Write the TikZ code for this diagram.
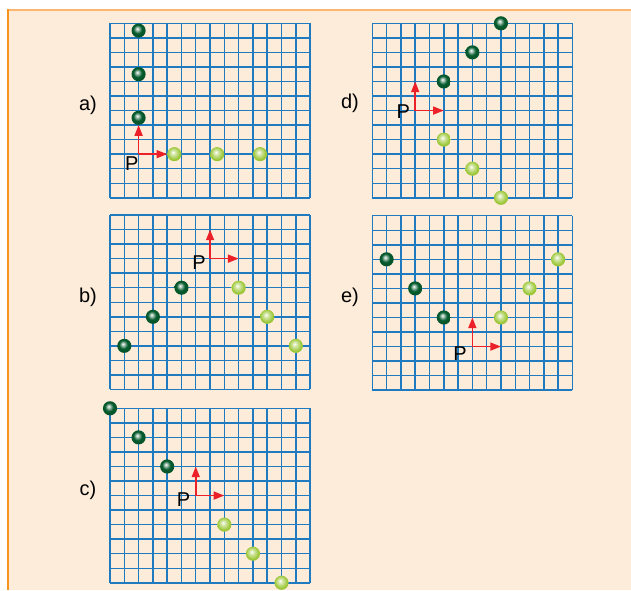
\documentclass[tikz,border=0pt]{standalone}
\usepackage{fontspec}
\setmainfont{Liberation Sans}
\usetikzlibrary{arrows.meta}

\definecolor{paper}{RGB}{253,236,218}
\definecolor{frameside}{RGB}{247,148,30}
\definecolor{frametop}{RGB}{251,182,112}
\definecolor{gridblue}{RGB}{32,122,192}
\definecolor{vecred}{RGB}{236,32,40}
\definecolor{dkgreen}{RGB}{6,92,46}
\definecolor{ltgreen}{RGB}{158,200,58}

\pgfdeclareradialshading{darkball}{\pgfpoint{-5bp}{7bp}}{color(0bp)=(white); color(6bp)=(dkgreen!40!white); color(15bp)=(dkgreen); color(32bp)=(dkgreen!85!black); color(50bp)=(dkgreen!60!black)}
\pgfdeclareradialshading{lightball}{\pgfpoint{-5bp}{7bp}}{color(0bp)=(white); color(8bp)=(ltgreen!45!white); color(22bp)=(ltgreen); color(40bp)=(ltgreen!92!black); color(50bp)=(ltgreen!80!black)}

\tikzset{every picture/.style={line width=0.75pt}}
\tikzset{
	gridline/.style={draw=gridblue, line width=1.1pt, step=1},
	vec/.style={draw=vecred, line width=1.2pt, -{Triangle[length=8pt,width=6pt]}},
	darkq/.style={shading=darkball},
	lightq/.style={shading=lightball},
	cell/.style={x=10.72pt, y=10.905pt},
	lbl/.style={font=\fontsize{15}{18}\selectfont, inner sep=0pt},
	plbl/.style={font=\fontsize{15}{18}\selectfont, inner sep=0pt}}

\begin{document}
\begin{tikzpicture}[x=0.75pt,y=0.75pt,yscale=-1,xscale=1]
	\useasboundingbox (0,0) rectangle (631,590);

	%Shape: Rectangle [background]
	\fill [paper] (8,9.5) rectangle (631,590);
	%Straight Lines [frame]
	\draw [frametop, line width=1.6pt] (8,9.8) -- (631,9.8);
	\draw [frameside, line width=1.4pt] (8.2,9) -- (8.2,590);

	%Panel a
	\begin{scope}[shift={(110,23.3)}, cell]
		\draw [gridline] (0,0) grid (14,12);
		\coordinate (oa) at (2,9);
		\coordinate (ua) at (2,7);
		\coordinate (ra) at (4,9);
		\draw [vec] (oa) -- (ua);
		\draw [vec] (oa) -- (ra);
		\shade [darkq] (2,6.5) circle (5.3pt);
		\shade [darkq] (2,3.5) circle (5.3pt);
		\shade [darkq] (2,0.5) circle (5.3pt);
		\shade [lightq] (4.5,9) circle (5.3pt);
		\shade [lightq] (7.5,9) circle (5.3pt);
		\shade [lightq] (10.5,9) circle (5.3pt);
	\end{scope}

	%Panel b
	\begin{scope}[shift={(110,215)}, cell]
		\draw [gridline] (0,0) grid (14,12);
		\coordinate (ob) at (7,3);
		\coordinate (ub) at (7,1);
		\coordinate (rb) at (9,3);
		\draw [vec] (ob) -- (ub);
		\draw [vec] (ob) -- (rb);
		\shade [darkq] (5,5) circle (5.3pt);
		\shade [darkq] (3,7) circle (5.3pt);
		\shade [darkq] (1,9) circle (5.3pt);
		\shade [lightq] (9,5) circle (5.3pt);
		\shade [lightq] (11,7) circle (5.3pt);
		\shade [lightq] (13,9) circle (5.3pt);
	\end{scope}

	%Panel c
	\begin{scope}[shift={(110,408.3)}, cell]
		\draw [gridline] (0,0) grid (14,12);
		\coordinate (oc) at (6,6);
		\coordinate (uc) at (6,4);
		\coordinate (rc) at (8,6);
		\draw [vec] (oc) -- (uc);
		\draw [vec] (oc) -- (rc);
		\shade [darkq] (4,4) circle (5.3pt);
		\shade [darkq] (2,2) circle (5.3pt);
		\shade [darkq] (0,0) circle (5.3pt);
		\shade [lightq] (8,8) circle (5.3pt);
		\shade [lightq] (10,10) circle (5.3pt);
		\shade [lightq] (12,12) circle (5.3pt);
	\end{scope}

	%Panel d
	\begin{scope}[shift={(372.3,23.3)}, cell]
		\draw [gridline] (0,0) grid (14,12);
		\coordinate (od) at (3,6);
		\coordinate (ud) at (3,4);
		\coordinate (rd) at (5,6);
		\draw [vec] (od) -- (ud);
		\draw [vec] (od) -- (rd);
		\shade [darkq] (5,4) circle (5.3pt);
		\shade [darkq] (7,2) circle (5.3pt);
		\shade [darkq] (9,0) circle (5.3pt);
		\shade [lightq] (5,8) circle (5.3pt);
		\shade [lightq] (7,10) circle (5.3pt);
		\shade [lightq] (9,12) circle (5.3pt);
	\end{scope}

	%Panel e
	\begin{scope}[shift={(372.3,215.7)}, cell]
		\draw [gridline] (0,0) grid (14,12);
		\coordinate (oe) at (7,9);
		\coordinate (ue) at (7,7);
		\coordinate (re) at (9,9);
		\draw [vec] (oe) -- (ue);
		\draw [vec] (oe) -- (re);
		\shade [darkq] (5,7) circle (5.3pt);
		\shade [darkq] (3,5) circle (5.3pt);
		\shade [darkq] (1,3) circle (5.3pt);
		\shade [lightq] (9,7) circle (5.3pt);
		\shade [lightq] (11,5) circle (5.3pt);
		\shade [lightq] (13,3) circle (5.3pt);
	\end{scope}

	% Text Node
	\node [lbl] (la) at (88,105) {a)};
	% Text Node
	\node [lbl] (lb) at (88,297) {b)};
	% Text Node
	\node [lbl] (lc) at (88,490) {c)};
	% Text Node
	\node [lbl] (ld) at (350,103) {d)};
	% Text Node
	\node [lbl] (le) at (350,297) {e)};
	% Text Node
	\node [plbl] (Pa) at (131.7,163.3) {P};
	% Text Node
	\node [plbl] (Pb) at (199,262.3) {P};
	% Text Node
	\node [plbl] (Pc) at (183.5,500) {P};
	% Text Node
	\node [plbl] (Pd) at (403.3,111.7) {P};
	% Text Node
	\node [plbl] (Pe) at (460,353.3) {P};

\end{tikzpicture}
\end{document}
